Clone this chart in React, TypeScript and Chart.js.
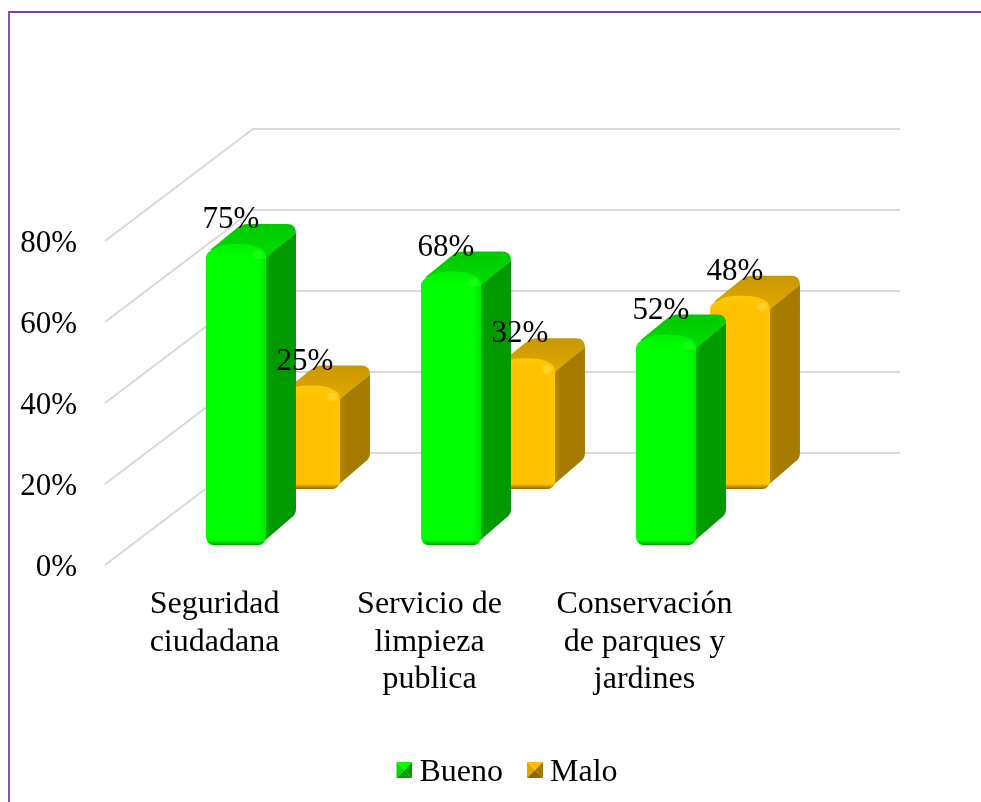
import React, { useEffect, useRef } from "react";
import { Chart, registerables } from "chart.js";

Chart.register(...registerables);

const categories = [
  ["Seguridad", "ciudadana"],
  ["Servicio de", "limpieza", "publica"],
  ["Conservación", "de parques y", "jardines"],
];
const buenoValues = [75, 68, 52];
const maloValues = [25, 32, 48];
const tickStep = 20;
const axisMax = 80;

const FONT = '"Liberation Serif", serif';
const DEPTH_X = 30;
const WALL_DX = 148;
const WALL_DY = 112;
const WALL_LEFT = 105;
const WALL_RIGHT = 900;

const palettes = [
  { front: "#00FF00", side: "#009A00", sideHi: "#00AE00", topNear: "#00DC00", topFar: "#00C800", edge: "#00A000", dome: "#00F200", right: "#00E800", glint: "rgba(60,255,60,0.3)" },
  { front: "#FFC000", side: "#A67C00", sideHi: "#B98C00", topNear: "#DFA800", topFar: "#C99700", edge: "#8C6900", dome: "#FFC808", right: "#FFC800", glint: "rgba(255,226,0,0.7)" },
];

function pyramid(p: any) {
  const c = document.createElement("canvas");
  c.width = 39;
  c.height = 21;
  const g = c.getContext("2d") as CanvasRenderingContext2D;
  g.translate(23, 0);
  const tri = (pts: number[][], col: string) => {
    g.fillStyle = col;
    g.beginPath();
    pts.forEach((q, i) => (i ? g.lineTo(q[0], q[1]) : g.moveTo(q[0], q[1])));
    g.closePath();
    g.fill();
  };
  tri([[0, 0], [16, 0], [8, 8]], p.front);
  tri([[0, 0], [0, 16], [8, 8]], p.topNear);
  tri([[16, 0], [16, 16], [8, 8]], p.side);
  tri([[0, 16], [16, 16], [8, 8]], p.edge);
  return c;
}

const wallPlugin = {
  id: "wall",
  beforeDatasetsDraw(chart: any) {
    const { ctx, scales } = chart;
    ctx.save();
    ctx.strokeStyle = "#D9D9D9";
    ctx.lineWidth = 2;
    scales.y.ticks.forEach((t: any) => {
      const py = scales.y.getPixelForValue(t.value);
      ctx.beginPath();
      ctx.moveTo(WALL_LEFT, py);
      ctx.lineTo(WALL_LEFT + WALL_DX, py - WALL_DY);
      ctx.lineTo(WALL_RIGHT, py - WALL_DY);
      ctx.stroke();
    });
    ctx.restore();
  },
};

const bar3dPlugin = {
  id: "bar3d",
  beforeDatasetDraw(chart: any, args: any) {
    const { ctx } = chart;
    const p = palettes[args.index];
    args.meta.data.forEach((el: any) => {
      const l = el.x - el.width / 2;
      const r = el.x + el.width / 2;
      const y = el.y;
      const b = el.base;
      ctx.save();
      // top face
      const tg = ctx.createLinearGradient(0, y + 4, 0, y - 26);
      tg.addColorStop(0, p.topNear);
      tg.addColorStop(1, p.topFar);
      ctx.fillStyle = tg;
      ctx.beginPath();
      ctx.moveTo(l + 4, y);
      ctx.lineTo(l + DEPTH_X + 1, y - 22);
      ctx.quadraticCurveTo(l + DEPTH_X + 6, y - 26, l + DEPTH_X + 12, y - 26);
      ctx.lineTo(r + DEPTH_X - 9, y - 26);
      ctx.quadraticCurveTo(r + DEPTH_X, y - 26, r + DEPTH_X, y - 17);
      ctx.lineTo(r, y + 8);
      ctx.closePath();
      ctx.fill();
      // side face
      const sg = ctx.createLinearGradient(r - 2, 0, r + 7, 0);
      sg.addColorStop(0, p.sideHi);
      sg.addColorStop(1, p.side);
      ctx.fillStyle = sg;
      ctx.beginPath();
      ctx.moveTo(r - 3, y + 10);
      ctx.lineTo(r + DEPTH_X, y - 17);
      ctx.lineTo(r + DEPTH_X, b - 36);
      ctx.quadraticCurveTo(r + DEPTH_X, b - 30, r + DEPTH_X - 5, b - 27);
      ctx.lineTo(r - 4, b - 2);
      ctx.closePath();
      ctx.fill();
      ctx.restore();
    });
  },
  afterDatasetDraw(chart: any, args: any) {
    const { ctx } = chart;
    const p = palettes[args.index];
    args.meta.data.forEach((el: any) => {
      const l = el.x - el.width / 2;
      const r = el.x + el.width / 2;
      const y = el.y;
      const b = el.base;
      ctx.save();
      // front dome
      const ug = ctx.createLinearGradient(0, y - 7, 0, y + 8);
      ug.addColorStop(0, p.dome);
      ug.addColorStop(1, p.front);
      ctx.fillStyle = ug;
      ctx.beginPath();
      ctx.moveTo(l, y + 9);
      ctx.quadraticCurveTo(l, y + 3, l + 7, y);
      ctx.quadraticCurveTo(l + 14, y - 6, l + 26, y - 6);
      ctx.lineTo(r - 24, y - 6);
      ctx.quadraticCurveTo(r - 12, y - 6, r - 3, y);
      ctx.quadraticCurveTo(r, y + 3, r, y + 9);
      ctx.closePath();
      ctx.fill();
      // glint
      const gg = ctx.createRadialGradient(r - 8, y + 5, 0, r - 8, y + 5, 6);
      gg.addColorStop(0, p.glint);
      gg.addColorStop(1, "rgba(255,255,255,0)");
      ctx.fillStyle = gg;
      ctx.fillRect(r - 14, y + 1, 12, 9);
      ctx.beginPath();
      ctx.roundRect(l, y - 8, r - l, b - y + 8, 8);
      ctx.clip();
      // bottom bevel
      const bg = ctx.createLinearGradient(0, b - 5, 0, b);
      bg.addColorStop(0, p.front);
      bg.addColorStop(1, p.edge);
      ctx.fillStyle = bg;
      ctx.fillRect(l, b - 5, r - l, 5);
      // right bevel
      const rg = ctx.createLinearGradient(r - 8, 0, r, 0);
      rg.addColorStop(0, p.front);
      rg.addColorStop(1, p.right);
      ctx.fillStyle = rg;
      ctx.fillRect(r - 8, y + 9, 8, b - y - 14);
      ctx.restore();
    });
  },
};

const valueLabelPlugin = {
  id: "valueLabels",
  afterDatasetsDraw(chart: any) {
    const { ctx } = chart;
    ctx.save();
    ctx.fillStyle = "#000";
    ctx.font = `31px ${FONT}`;
    ctx.textAlign = "center";
    ctx.textBaseline = "middle";
    chart.data.datasets.forEach((ds: any, di: number) => {
      chart.getDatasetMeta(di).data.forEach((el: any, i: number) => {
        ctx.fillText(`${ds.data[i]}%`, el.x - 5, el.y - 30);
      });
    });
    ctx.restore();
  },
};

export default function App() {
  const ref = useRef<HTMLCanvasElement>(null);
  useEffect(() => {
    const markers = [pyramid(palettes[0]), pyramid(palettes[1])];
    const chart = new Chart(ref.current as HTMLCanvasElement, {
      type: "bar",
      data: {
        labels: categories as any,
        datasets: [
          { label: "Bueno", data: buenoValues, backgroundColor: palettes[0].front, yAxisID: "yBueno" },
          { label: "Malo", data: maloValues, backgroundColor: palettes[1].front, yAxisID: "yMalo" },
        ],
      },
      options: {
        responsive: false,
        animation: false,
        layout: { padding: { left: 19, right: 0, top: 241, bottom: 3.5 } },
        datasets: {
          bar: {
            categoryPercentage: 0.688,
            barPercentage: 0.811,
            borderRadius: 8,
            borderSkipped: false,
            clip: false,
          },
        },
        plugins: {
          tooltip: { enabled: false },
          legend: {
            position: "bottom",
            labels: {
              color: "#000",
              font: { family: FONT, size: 32 },
              usePointStyle: true,
              boxWidth: 21,
              boxHeight: 16,
              padding: 10,
              generateLabels(c: any) {
                return Chart.defaults.plugins.legend.labels
                  .generateLabels(c)
                  .map((it: any, i: number) => ({ ...it, pointStyle: markers[i] }));
              },
            },
          },
        },
        scales: {
          x: {
            grid: { display: false, drawTicks: false },
            border: { display: false },
            afterFit(s: any) {
              s.height = 181.5;
            },
            ticks: {
              color: "#000",
              font: { family: FONT, size: 32, lineHeight: 1.17 },
              labelOffset: -58.5,
              padding: 21,
              autoSkip: false,
              maxRotation: 0,
              minRotation: 0,
            },
          },
          y: {
            min: 0,
            max: axisMax,
            grid: { display: false, drawTicks: false },
            border: { display: false },
            afterFit(s: any) {
              s.width = 146.5;
            },
            ticks: {
              stepSize: tickStep,
              color: "#000",
              font: { family: FONT, size: 31 },
              padding: 88.5,
              labelOffset: 3,
              callback: (v: any) => `${v}%`,
            },
          },
          yBueno: { display: false, min: -5.085, max: 77.29 },
          yMalo: {
            position: "right",
            min: -19.49,
            max: 63.59,
            grid: { display: false, drawTicks: false },
            border: { display: false },
            ticks: { display: false },
            afterFit(s: any) {
              s.width = 170.5;
            },
          },
        },
      } as any,
      plugins: [wallPlugin, bar3dPlugin, valueLabelPlugin],
    });
    return () => chart.destroy();
  }, []);
  return (
    <div style={{ position: "fixed", inset: 0, overflow: "hidden", background: "#fff" }}>
      <div
        style={{
          position: "absolute",
          left: 8,
          top: 11,
          width: 1200,
          height: 1200,
          borderLeft: "2px solid #8455B5",
          borderTop: "2px solid #7340A8",
        }}
      />
      <canvas ref={ref} width={981} height={802} style={{ position: "absolute", left: 0, top: 0, display: "block" }} />
    </div>
  );
}
